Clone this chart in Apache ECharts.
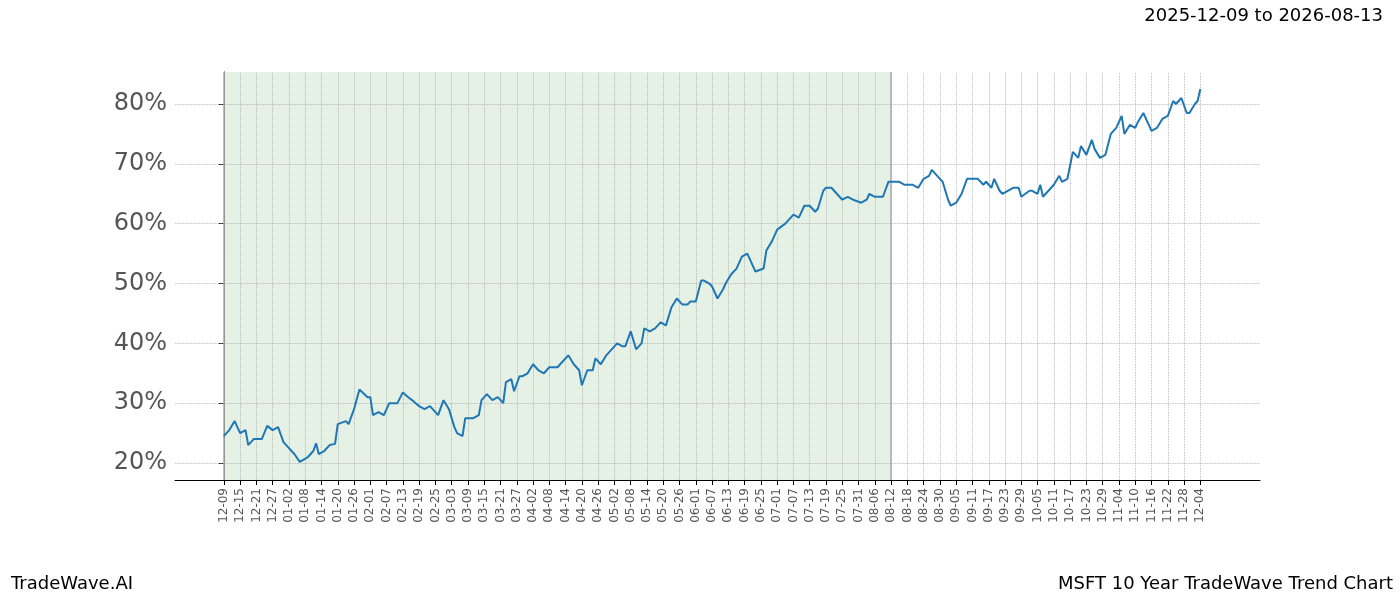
<!DOCTYPE html>
<html lang="en" style="height: 100%">
<head>
  <meta charset="utf-8">
</head>
<body style="height: 100%; margin: 0">
  <div id="container" style="width: 1400px; height: 600px"></div>
  <script type="text/javascript" src="https://fastly.jsdelivr.net/npm/echarts@6.0.0/dist/echarts.min.js"></script>
  <script type="text/javascript">
    // days since 2025-12-09 and trend value in percent
    var days = [0,2,4,6,8,9,11,14,16,18,20,22,24,26,28,31,33,34,35,37,39,41,42,45,46,48,50,53,54,55,57,59,61,64,66,68,70,72,74,76,79,81,83,85,86,88,89,92,94,95,97,99,101,103,104,106,107,109,110,112,114,116,118,120,123,125,127,129,131,132,134,136,137,139,141,143,145,147,148,150,152,154,155,157,159,161,163,165,167,169,171,172,174,176,177,179,180,182,184,185,187,189,191,193,195,196,199,200,202,204,207,209,210,212,214,216,218,219,221,222,224,226,228,230,232,235,237,238,240,243,245,247,249,251,254,256,258,260,261,264,265,267,268,270,272,274,276,278,280,281,283,284,286,287,289,291,293,294,297,298,300,301,302,305,306,308,309,311,313,315,316,318,320,321,323,325,327,329,331,332,334,336,337,339,341,342,344,346,348,350,351,353,355,356,358,359,360];
    var pct = [24.5,25.5,27,25,25.5,23,24,24,26.2,25.5,26,23.5,22.5,21.5,20.2,21,22,23.3,21.5,22,23,23.2,26.5,27,26.5,29,32.3,31,31,28,28.5,28,30,30,31.8,31,30.3,29.5,29,29.5,28,30.5,29,26,25,24.5,27.5,27.5,28,30.5,31.5,30.5,31,30,33.5,34,32,34.5,34.5,35,36.5,35.5,35,36,36,37,38,36.5,35.5,33,35.5,35.5,37.5,36.5,38,39,40,39.5,39.5,42,39,40,42.5,42,42.5,43.5,43,46,47.5,46.5,46.5,47,47,50.5,50.5,50,49.5,47.5,49,50,51.5,52.5,54.5,55,53,52,52.5,55.5,57,59,60,61,61.5,61,63,63,62,62.5,65.5,66,66,65,64,64.5,64,63.5,64,65,64.5,64.5,67,67,67,66.5,66.5,66,67.5,68,69,67.5,67,64,63,63.5,65,67.5,67.5,67.5,66.5,67,66,67.5,65.5,65,65.5,66,66,64.5,65.5,65.5,65,66.5,64.5,66,66.5,68,67,67.5,72,71,73,71.5,74,72.5,71,71.5,75,76,78,75,76.5,76,77,78.5,76.5,75.5,76,77.5,78,80.5,80,81,78.5,78.5,80,80.5,82.5];
    var yTicks = [20, 30, 40, 50, 60, 70, 80];
    var startDate = Date.UTC(2025, 11, 9);
    var lastLabelDay = 360;
    var shadeEndDay = 246;

    var xTicks = [];
    for (var d = 0; d <= lastLabelDay; d += 6) xTicks.push(d);

    function dayLabel(d) {
      var t = new Date(startDate + d * 86400000);
      var m = String(t.getUTCMonth() + 1).padStart(2, '0');
      var dd = String(t.getUTCDate()).padStart(2, '0');
      return m + '-' + dd;
    }

    var data = days.map(function (d, i) { return [d, pct[i]]; });
    var gridLine = { color: '#aaa', type: 'dotted', width: 0.8 };

    var myChart = echarts.init(document.getElementById('container'), null, { renderer: 'canvas' });
    var option = {
      animation: false,
      backgroundColor: '#ffffff',
      title: [
        { text: '2025-12-09 to 2026-08-13', right: 12, top: 2, textStyle: { fontSize: 18, fontWeight: 'normal', color: '#000', fontFamily: 'DejaVu Sans' } },
        { text: 'TradeWave.AI', left: 6, bottom: 2, textStyle: { fontSize: 18, fontWeight: 'normal', color: '#000', fontFamily: 'DejaVu Sans' } },
        { text: 'MSFT 10 Year TradeWave Trend Chart', right: 2, bottom: 2, textStyle: { fontSize: 18, fontWeight: 'normal', color: '#000', fontFamily: 'DejaVu Sans' } }
      ],
      grid: { left: 175, right: 140, top: 72, bottom: 120 },
      xAxis: {
        type: 'value', min: -18, max: 382,
        axisLine: { lineStyle: { color: '#000' } },
        axisTick: { customValues: xTicks, lineStyle: { color: '#000' } },
        axisLabel: { customValues: xTicks, rotate: 90, fontSize: 12, color: '#555', fontFamily: 'DejaVu Sans', formatter: dayLabel },
        splitLine: { show: false }
      },
      yAxis: {
        type: 'value', min: 17.16, max: 85.35,
        axisLine: { show: true, lineStyle: { color: '#000' } },
        axisTick: { show: true, customValues: yTicks, lineStyle: { color: '#000' } },
        axisLabel: { customValues: yTicks, fontSize: 24, color: '#555', fontFamily: 'DejaVu Sans', formatter: function (v) { return v + '%'; } },
        splitLine: { show: false }
      },
      series: [{
        type: 'line',
        data: data,
        showSymbol: false,
        z: 5,
        lineStyle: { color: '#1f77b4', width: 2 },
        markArea: {
          silent: true,
          itemStyle: { color: 'rgba(140,190,140,0.22)' },
          data: [[{ xAxis: 0 }, { xAxis: shadeEndDay }]]
        },
        markLine: {
          silent: true, symbol: 'none', label: { show: false }, z: 1,
          lineStyle: gridLine,
          data: xTicks.map(function (v) { return { xAxis: v }; })
            .concat(yTicks.map(function (v) { return { yAxis: v }; }))
            .concat([
              { xAxis: 0, lineStyle: { color: '#aaa', type: 'solid', width: 1.5 } },
              { xAxis: shadeEndDay, lineStyle: { color: '#aaa', type: 'solid', width: 1.5 } }
            ])
        }
      }]
    };
    myChart.setOption(option);
  </script>
</body>
</html>
